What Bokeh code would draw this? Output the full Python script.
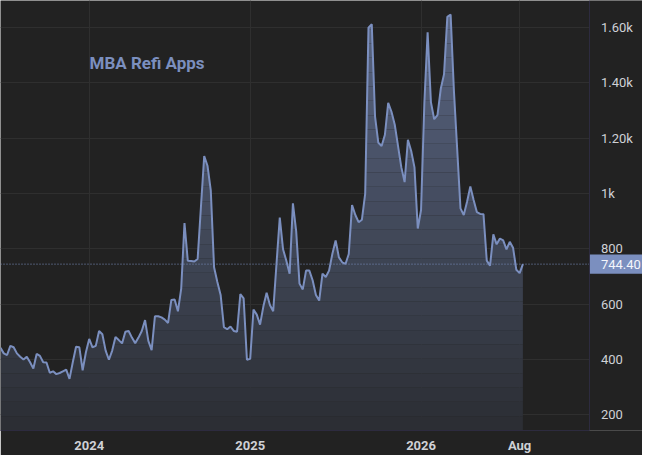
import numpy as np
from bokeh.plotting import figure
from bokeh.models import FixedTicker, Range1d, Label, Span, BoxAnnotation
from bokeh.embed import file_html
from bokeh.resources import INLINE

# ---- data (weekly values) ----
values = [
    442, 422, 416, 449, 444, 422, 410, 400, 410, 390,
    367, 420, 413, 390, 389, 352, 357, 347, 351, 357,
    363, 330, 390, 446, 444, 361, 426, 474, 444, 449,
    503, 491, 432, 399, 432, 481, 470, 458, 500, 503,
    479, 459, 479, 503, 542, 467, 434, 556, 556, 552,
    544, 532, 615, 617, 574, 656, 893, 757, 756, 754,
    763, 950, 1135, 1100, 1011, 733, 680, 633, 517, 509,
    519, 503, 500, 636, 621, 399, 402, 580, 562, 526,
    591, 641, 597, 574, 745, 913, 798, 757, 710, 964,
    863, 674, 653, 721, 721, 686, 633, 613, 710, 698,
    721, 781, 830, 769, 751, 745, 781, 958, 922, 896,
    905, 999, 1599, 1611, 1277, 1183, 1171, 1212, 1327, 1295,
    1248, 1171, 1094, 1041, 1194, 1153, 1094, 873, 940, 1324,
    1582, 1330, 1268, 1283, 1378, 1431, 1638, 1646, 1372, 1159,
    946, 922, 970, 1025, 976, 932, 926, 925, 757, 739,
    852, 816, 837, 830, 798, 825, 804, 724, 712, 744.4,
]
x_tick_index = [27, 76, 128, 158]
x_tick_labels = ["2024", "2025", "2026", "Aug"]
y_ticks = [200, 400, 600, 800, 1000, 1200, 1400, 1600]
y_tick_labels = ["200", "400", "600", "800", "1k", "1.20k", "1.40k", "1.60k"]
series_name = "MBA Refi Apps"
last_value = 744.40

# ---- styling ----
BG = "#222222"
GRID = "#2f2f2f"
BORDER = "#2d2b3f"
LINE = "#7b8fbf"
TXT = "#cfd1d6"
FONT = "Roboto"

idx = np.arange(len(values))
vals = np.array(values, dtype=float)

ymin, ymax = 143.3, 1697.0
x_scale_end = 179.4      # right edge of the plotting area (price scale starts here)
x_full_end = 195.4       # includes the price-scale strip

p = figure(
    width=642, height=455,
    x_range=Range1d(0, x_full_end), y_range=Range1d(ymin, ymax),
    y_axis_location="right",
    output_backend="svg", toolbar_location=None,
    background_fill_color=BG, border_fill_color=BG,
    min_border_left=0, min_border_top=0,
    min_border_right=0, min_border_bottom=25,
)
p.outline_line_color = None

# gradient area fill made of horizontal bands (clipped under the line)
fine_x = np.linspace(0, len(values) - 1, (len(values) - 1) * 16 + 1)
fine_y = np.interp(fine_x, idx, vals)
top_rgb = np.array([0x5b, 0x68, 0x86])
bot_rgb = np.array([0x2b, 0x2d, 0x33])
nb = 30
edges = np.linspace(ymin, ymax, nb + 1)
for k in range(nb):
    lo, hi = edges[k], edges[k + 1]
    t = ((lo + hi) / 2 - ymin) / (ymax - ymin)
    c = (bot_rgb + (top_rgb - bot_rgb) * t).round().astype(int)
    col = "#%02x%02x%02x" % tuple(c)
    y2 = np.clip(fine_y, lo, hi)
    p.varea(x=fine_x, y1=np.full_like(fine_x, lo), y2=y2, fill_color=col, fill_alpha=1.0)

p.line(idx, vals, line_color=LINE, line_width=2)

# last value dotted line (under the price-scale strip)
p.add_layout(Span(location=last_value, dimension="width", line_color=LINE,
                  line_dash="1 2", line_width=1, level="glyph"))

# price-scale strip background (hides grid lines there)
p.add_layout(BoxAnnotation(left=x_scale_end, fill_color=BG, fill_alpha=1.0,
                           line_color=None, level="glyph"))

# last value tag on the price scale
tag_half = 34.9  # half of the tag's height, in value units
p.add_layout(BoxAnnotation(left=x_scale_end, bottom=last_value - tag_half,
                           top=last_value + tag_half, fill_color=LINE,
                           fill_alpha=1.0, line_color=None))
p.add_layout(Label(x=x_scale_end, y=last_value, x_offset=11, text="%.2f" % last_value,
                   text_font=FONT, text_font_size="13px", text_color="#f4f6fb",
                   text_align="left", text_baseline="middle"))

# axes
p.xaxis.ticker = FixedTicker(ticks=x_tick_index)
p.xaxis.major_label_overrides = {t: l for t, l in zip(x_tick_index, x_tick_labels)}
p.xaxis.bounds = (0, x_scale_end)
p.yaxis.ticker = FixedTicker(ticks=y_ticks)
p.yaxis.major_label_overrides = {t: l for t, l in zip(y_ticks, y_tick_labels)}
p.yaxis.fixed_location = x_scale_end
for ax in (p.xaxis, p.yaxis):
    ax.axis_line_color = BORDER
    ax.axis_line_width = 1
    ax.major_tick_line_color = None
    ax.minor_tick_line_color = None
    ax.major_tick_out = 0
    ax.major_tick_in = 0
    ax.major_label_text_color = TXT
    ax.major_label_text_font = FONT
    ax.major_label_text_font_size = "13px"
p.xaxis.major_label_standoff = 7
p.xaxis.major_label_text_font_style = "bold"
p.yaxis.major_label_standoff = 11

p.xgrid.grid_line_color = GRID
p.ygrid.grid_line_color = GRID

# series title
p.add_layout(Label(x=89, y=368, x_units="screen", y_units="screen",
                   text=series_name, text_font=FONT, text_font_style="bold",
                   text_font_size="17px", text_color=LINE,
                   text_baseline="alphabetic"))

open("out.html", "w").write(file_html(p, INLINE))
